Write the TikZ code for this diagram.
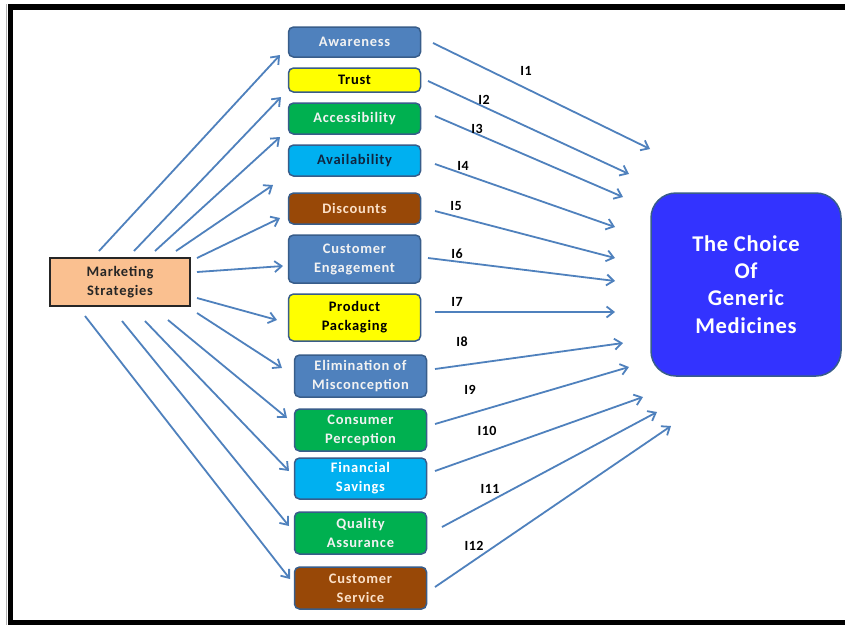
\documentclass[tikz,border=0pt]{standalone}
\usepackage{fontspec}
\setmainfont{Carlito}
\newfontfamily\widefont[LetterSpace=5]{Carlito}
\newfontfamily\midfont[LetterSpace=3]{Carlito}
\usetikzlibrary{arrows.meta}
\definecolor{bluebox}{HTML}{4F81BD}
\definecolor{yelbox}{HTML}{FFFF00}
\definecolor{grnbox}{HTML}{00B050}
\definecolor{cyanbox}{HTML}{00B0F0}
\definecolor{brnbox}{HTML}{984807}
\definecolor{bordc}{HTML}{385D8A}
\definecolor{arrc}{HTML}{4F81BD}
\definecolor{peach}{HTML}{FAC090}
\definecolor{choiceblue}{HTML}{3333FF}
\definecolor{navytext}{HTML}{10253F}
\definecolor{paletext}{HTML}{FBE0C8}
\tikzset{
  box/.style={draw=bordc, line width=1.5pt, rounded corners=5pt, minimum width=132pt,
    inner sep=0pt, align=center, font=\widefont\bfseries\fontsize{14.5}{19}\selectfont},
  arr/.style={draw=arrc, line width=1.8pt, -{Straight Barb[length=7pt,width=11pt,line width=1.8pt]}},
  lab/.style={font=\midfont\bfseries\fontsize{14}{14}\selectfont, text=black, inner sep=0pt},
}
\begin{document}
\begin{tikzpicture}[x=1pt,y=-1pt]
\useasboundingbox (0,0) rectangle (845,625);
\fill[white] (0,0) rectangle (845,625);
% frame
\draw[black!30, line width=1pt] (6,4) -- (6,625);
\draw[black, line width=6pt] (8,7) -- (845,7);
\draw[black, line width=5pt] (10.5,4) -- (10.5,625);
\draw[black, line width=5pt] (8,622.5) -- (845,622.5);

% left node
\node[draw=black!85, line width=1.5pt, fill=peach, minimum width=140pt, minimum height=48pt,
  align=center, inner sep=0pt, font=\widefont\bfseries\fontsize{14.5}{19}\selectfont, text=black!85]
  (ms) at (120,282) {Marketing\\Strategies};

% right node
\node[draw=bordc, line width=1.5pt, fill=choiceblue, rounded corners=25pt, minimum width=190pt,
  minimum height=183pt, align=center, inner sep=0pt, text=white,
  font=\midfont\bfseries\fontsize{22.5}{27.3}\selectfont] (gc) at (746,284.5)
  {The Choice\\Of\\Generic\\Medicines};

% middle nodes
\node[box, fill=bluebox, text=white!95!black, minimum height=30pt] (n1) at (354.5,42) {Awareness};
\node[box, fill=yelbox, text=black, minimum height=24pt] (n2) at (354.5,80) {Trust};
\node[box, fill=grnbox, text=white!95!black, minimum height=31pt] (n3) at (354.5,118.5) {Accessibility};
\node[box, fill=cyanbox, text=navytext, minimum height=31pt] (n4) at (354.5,160.5) {Availability};
\node[box, fill=brnbox, text=paletext, minimum height=31pt] (n5) at (354.5,208.5) {Discounts};
\node[box, fill=bluebox, text=white!95!black, minimum height=48pt] (n6) at (354.5,259) {Customer\\Engagement};
\node[box, fill=yelbox, text=black, minimum height=47pt] (n7) at (354.5,317.5) {Product\\Packaging};
\node[box, fill=bluebox, text=white!95!black, minimum height=42pt] (n8) at (360.5,376) {Elimination of\\Misconception};
\node[box, fill=grnbox, text=white!95!black, minimum height=42pt] (n9) at (360.5,430) {Consumer\\Perception};
\node[box, fill=cyanbox, text=white, minimum height=41pt] (n10) at (360.5,478.5) {Financial\\Savings};
\node[box, fill=grnbox, text=white!95!black, minimum height=42pt] (n11) at (360.5,533) {Quality\\Assurance};
\node[box, fill=brnbox, text=paletext, minimum height=42pt] (n12) at (360.5,588) {Customer\\Service};

% left arrow start/end coordinates
\coordinate (s1) at (99,251);  \coordinate (e1) at (280,55);
\coordinate (s2) at (134,251); \coordinate (e2) at (281,97);
\coordinate (s3) at (155,251); \coordinate (e3) at (280,137);
\coordinate (s4) at (176,251); \coordinate (e4) at (273,185);
\coordinate (s5) at (197,258); \coordinate (e5) at (280,218);
\coordinate (s6) at (197,272); \coordinate (e6) at (283,266);
\coordinate (s7) at (197,298); \coordinate (e7) at (277,320);
\coordinate (s8) at (197,313); \coordinate (e8) at (282,368);
\coordinate (s9) at (168,320); \coordinate (e9) at (287,418);
\coordinate (s10) at (145,321); \coordinate (e10) at (289,471);
\coordinate (s11) at (122,321); \coordinate (e11) at (289,526);
\coordinate (s12) at (85,316); \coordinate (e12) at (290,579);
\foreach \i in {1,...,12} { \draw[arr] (s\i) -- (e\i); }

% right arrows
\coordinate (r1) at (433,43);  \coordinate (t1) at (650,149);
\coordinate (r2) at (428,81);  \coordinate (t2) at (629,174);
\coordinate (r3) at (435,116); \coordinate (t3) at (623,197);
\coordinate (r4) at (435,164); \coordinate (t4) at (615,227);
\coordinate (r5) at (435,211); \coordinate (t5) at (615,258);
\coordinate (r6) at (428,258); \coordinate (t6) at (615,281);
\coordinate (r7) at (435,312); \coordinate (t7) at (615,312);
\coordinate (r8) at (435,369); \coordinate (t8) at (623,343);
\coordinate (r9) at (435,424); \coordinate (t9) at (629,367);
\coordinate (r10) at (435,471); \coordinate (t10) at (643,397);
\coordinate (r11) at (442,527); \coordinate (t11) at (657,412);
\coordinate (r12) at (435,587); \coordinate (t12) at (671,426);
\foreach \i in {1,...,12} { \draw[arr] (r\i) -- (t\i); }

% labels
\node[lab] (l1) at (526,71) {I1};
\node[lab] (l2) at (484,100) {I2};
\node[lab] (l3) at (477,129) {I3};
\node[lab] (l4) at (463,166) {I4};
\node[lab] (l5) at (456,206) {I5};
\node[lab] (l6) at (457,254) {I6};
\node[lab] (l7) at (457,302) {I7};
\node[lab] (l8) at (462,342) {I8};
\node[lab] (l9) at (470,390) {I9};
\node[lab] (l10) at (487,431) {I10};
\node[lab] (l11) at (490,489) {I11};
\node[lab] (l12) at (474,546) {I12};
\end{tikzpicture}
\end{document}
